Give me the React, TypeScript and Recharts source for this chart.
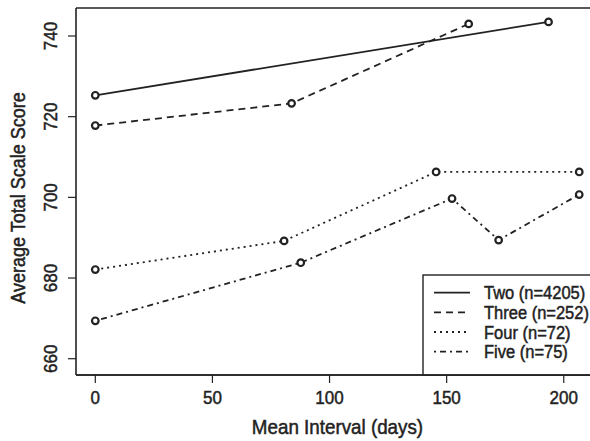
import React from 'react';
import { LineChart, Line, XAxis, YAxis } from 'recharts';

const twoX = [0, 193.5];
const twoY = [725.3, 743.5];
const threeX = [0, 83.8, 159.4];
const threeY = [717.8, 723.3, 743.0];
const fourX = [0, 80.6, 145.5, 206.6];
const fourY = [682.1, 689.2, 706.3, 706.3];
const fiveX = [0, 87.7, 152.3, 172.2, 206.6];
const fiveY = [669.4, 683.8, 699.7, 689.4, 700.7];

const xTicks = [0, 50, 100, 150, 200];
const yTicks = [660, 680, 700, 720, 740];
const legendLabels = ['Two (n=4205)', 'Three (n=252)', 'Four (n=72)', 'Five (n=75)'];
const dashes = ['', '7 5', '2 4', '2 4 6 4'];

const X_DOMAIN: [number, number] = [-8.24, 211.2];
const Y_DOMAIN: [number, number] = [655.96, 746.94];

const toPts = (xs: number[], ys: number[]) => xs.map((x, i) => ({ x, y: ys[i] }));
const seriesData = [toPts(twoX, twoY), toPts(threeX, threeY), toPts(fourX, fourY), toPts(fiveX, fiveY)];

const FONT = '"Liberation Sans", Arial, Helvetica, sans-serif';
const INK = '#222';
const SY = 1.1;

const SText = (props: any) => {
  const { x, y, rotate = 0, size, anchor = 'start', children } = props;
  return (
    <text
      x={0}
      y={0}
      transform={`translate(${x},${y}) rotate(${rotate}) scale(1,${SY})`}
      textAnchor={anchor}
      fontSize={size}
      fontFamily={FONT}
      fill={INK}
      stroke={INK}
      strokeWidth={0.45}
    >
      {children}
    </text>
  );
};

const YTick = (props: any) => {
  const { x, y, payload } = props;
  return (
    <SText x={x - 9.5} y={y} rotate={-90} size={17} anchor="middle">
      {payload.value}
    </SText>
  );
};

const XTick = (props: any) => {
  const { x, y, payload } = props;
  return (
    <SText x={x} y={404} size={17} anchor="middle">
      {payload.value}
    </SText>
  );
};

export default function App() {
  const W = 590;
  const H = 441;
  const left = 76;
  const top = 8;
  const bottom = 375;
  const legendRows = [292.7, 312.4, 332, 351.7];
  return (
    <div style={{ position: 'absolute', left: 0, top: 0, width: W, height: H, background: '#fff' }}>
      <LineChart width={W} height={H} margin={{ top: top, right: 0, left: 0, bottom: 0 }}>
        <XAxis
          type="number"
          dataKey="x"
          domain={X_DOMAIN}
          ticks={xTicks}
          allowDataOverflow
          height={H - bottom}
          tickSize={8}
          axisLine={{ stroke: INK, strokeWidth: 1.6 }}
          tickLine={{ stroke: INK, strokeWidth: 1.2 }}
          tick={<XTick />}
        />
        <YAxis
          type="number"
          dataKey="y"
          domain={Y_DOMAIN}
          ticks={yTicks}
          allowDataOverflow
          width={left}
          tickSize={8}
          axisLine={{ stroke: INK, strokeWidth: 1.6 }}
          tickLine={{ stroke: INK, strokeWidth: 1.2 }}
          tick={<YTick />}
        />
        {seriesData.map((d, i) => (
          <Line
            key={i}
            data={d}
            dataKey="y"
            type="linear"
            stroke={INK}
            strokeWidth={1.8}
            strokeDasharray={dashes[i] || undefined}
            dot={{ r: 3.3, stroke: INK, strokeWidth: 2.2, fill: '#fff', strokeDasharray: '' }}
            activeDot={false}
            isAnimationActive={false}
          />
        ))}
      </LineChart>
      <svg
        width={W}
        height={H}
        style={{ position: 'absolute', left: 0, top: 0, pointerEvents: 'none' }}
      >
        <line x1={left} y1={top} x2={W} y2={top} stroke={INK} strokeWidth={1.6} />
        <SText x={337.5} y={434} size={18.8} anchor="middle">
          Mean Interval (days)
        </SText>
        <SText x={24.5} y={198} rotate={-90} size={18} anchor="middle">
          Average Total Scale Score
        </SText>
        <rect x={423} y={275} width={W} height={bottom - 275} fill="#fff" stroke={INK} strokeWidth={1.4} />
        {legendLabels.map((lab, i) => (
          <g key={lab}>
            <line
              x1={434}
              x2={470}
              y1={legendRows[i]}
              y2={legendRows[i]}
              stroke={INK}
              strokeWidth={1.8}
              strokeDasharray={dashes[i] || undefined}
            />
            <SText x={484} y={legendRows[i] + 6.6} size={16.5}>
              {lab}
            </SText>
          </g>
        ))}
        <line x1={left} y1={bottom} x2={W} y2={bottom} stroke={INK} strokeWidth={1.6} />
      </svg>
    </div>
  );
}
